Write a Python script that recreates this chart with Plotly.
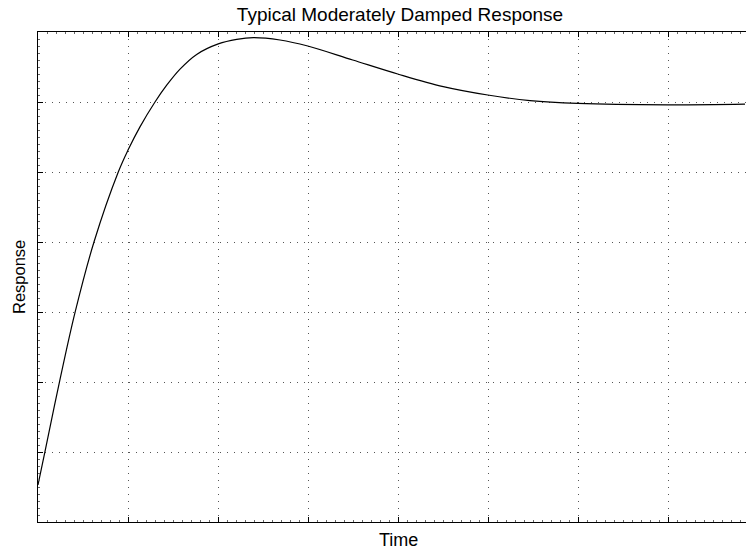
import plotly.graph_objects as go

# Data (time in grid units, response in grid units)
time = [0.0, 0.078, 0.237, 0.411, 0.622, 0.892, 1.003, 1.133, 1.30, 1.43, 1.578,
        1.763, 2.003, 2.208, 2.393, 2.689, 2.997, 3.497, 3.997, 4.503, 4.997,
        5.467, 5.997, 6.997, 7.856]
response = [0.53, 1.01, 1.99, 2.99, 4.0, 5.0, 5.32, 5.645, 6.0, 6.24, 6.47,
            6.68, 6.83, 6.895, 6.92, 6.886, 6.80, 6.60, 6.40, 6.22, 6.10,
            6.02, 5.98, 5.96, 5.97]

title_text = "Typical Moderately Damped Response"
x_label = "Time"
y_label = "Response"

FONT = "Liberation Sans, Arial, Helvetica, sans-serif"

L, T, B, W, H = 38, 32, 28, 746, 550
PW, PH = W - L, H - T - B

fig = go.Figure()
fig.add_trace(go.Scatter(
    x=time, y=response, mode="lines",
    line=dict(color="black", width=1.2, shape="spline", smoothing=1.0),
    hoverinfo="skip", showlegend=False,
))

grid_dash = "1px,6px"

fig.update_layout(
    width=W, height=H,
    margin=dict(l=L, r=0, t=T, b=B),
    paper_bgcolor="white", plot_bgcolor="white",
    font=dict(family=FONT, size=18, color="black"),
    title=dict(text=title_text, x=400 / W, xanchor="center",
               y=1 - 14 / H, yanchor="middle", yref="container",
               font=dict(family=FONT, size=19, color="black")),
    xaxis=dict(
        range=[0, PW / 90], dtick=1, tick0=0,
        showticklabels=False, ticks="inside", ticklen=5, tickcolor="black",
        showline=True, linecolor="black", linewidth=1, mirror="ticks",
        showgrid=True, gridcolor="#555", griddash=grid_dash, gridwidth=1,
        zeroline=False, automargin=False,
        minor=dict(dtick=0.1, ticks="inside", ticklen=2, tickcolor="#666", showgrid=False),
    ),
    yaxis=dict(
        range=[0, 7], dtick=1, tick0=0,
        showticklabels=False, ticks="inside", ticklen=5, tickcolor="black",
        showline=True, linecolor="black", linewidth=1, mirror=False,
        showgrid=True, gridcolor="#555", griddash=grid_dash, gridwidth=1,
        zeroline=False, automargin=False,
        minor=dict(dtick=0.1, ticks="inside", ticklen=2, tickcolor="#666", showgrid=False),
    ),
    annotations=[
        dict(text=x_label, xref="paper", yref="paper",
             x=(398 - L) / PW, y=-(540 - (H - B)) / PH,
             xanchor="center", yanchor="middle", showarrow=False,
             font=dict(family=FONT, size=18, color="black")),
        dict(text=y_label, xref="paper", yref="paper",
             x=(19 - L) / PW, y=((H - B) - 277) / PH,
             xanchor="center", yanchor="middle", textangle=-90, showarrow=False,
             font=dict(family=FONT, size=16.5, color="black")),
    ],
)

fig.write_html("out.html")
